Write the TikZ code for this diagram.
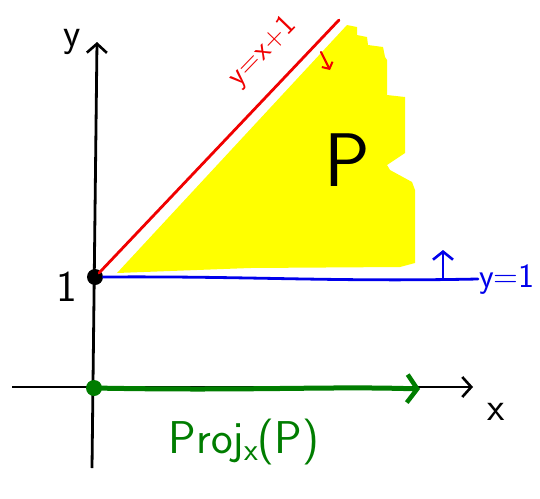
\documentclass[tikz,border=0pt]{standalone}
\usepackage{fontspec}
\usetikzlibrary{arrows.meta}
\definecolor{pyellow}{RGB}{255,255,0}
\definecolor{pred}{RGB}{240,0,0}
\definecolor{pblue}{RGB}{0,0,235}
\definecolor{pgreen}{RGB}{0,125,0}
\tikzset{
  axis/.style={line width=2.8pt, black, -{Straight Barb[length=9pt,width=20pt,line width=2.6pt]}},
  pen/.style={line width=2.8pt, line cap=round},
  lbl/.style={font=\sffamily, inner sep=0pt},
  dotnode/.style={circle, fill, inner sep=0pt, minimum size=16pt},
}
\begin{document}
\begin{tikzpicture}[x=1pt,y=-1pt]
\useasboundingbox (0,0) rectangle (540,498);
% region P
\fill[pyellow] (117,273) -- (347,25) -- (357,27) -- (357,35) -- (367,37) -- (368,45) -- (383,47) -- (385,57) -- (387,60) -- (387,95) -- (405,97) -- (405,153) -- (387,165) -- (390,170) -- (412,182) -- (415,190) -- (415,263) -- (400,267) -- (250,268) -- cycle;
\node[lbl, font=\sffamily\fontsize{76}{76}\selectfont] (P) at (347,160) {P};
% axes
\coordinate (ybot) at (92,468);
\coordinate (ytop) at (97,42);
\coordinate (xl) at (12,387);
\coordinate (xr) at (473,387);
\draw[axis] (ybot) -- (ytop);
\draw[axis] (xl) -- (xr);
\node[lbl, font=\sffamily\fontsize{40}{40}\selectfont] (xlab) at (496,412) {x};
\node[lbl, font=\sffamily\fontsize{40}{40}\selectfont] (ylab) at (72,42) {y};
% blue line y=1
\node[dotnode, black] (one) at (95,277) {};
\coordinate (bend) at (478,279);
\draw[pen, pblue] (one.east) .. controls (250,276) and (330,282) .. (bend);
\node[lbl, pblue, font=\sffamily\fontsize{34}{34}\selectfont] (y1) at (507,280) {y=1};
\coordinate (bu1) at (443,279);
\coordinate (bu2) at (443,250);
\draw[pen, pblue, -{Straight Barb[length=8pt,width=20pt,line width=2.6pt]}] (bu1) -- (bu2);
\node[lbl, font=\sffamily\fontsize{44}{44}\selectfont] (onelab) at (67,287) {1};
% red line y=x+1
\coordinate (rtop) at (339,20);
\draw[pen, pred] (one.center) ++(4,-4) -- (rtop);
\node[lbl, pred, rotate=46, font=\sffamily\fontsize{30}{30}\selectfont] (rl) at (263,52) {y=x+1};
\coordinate (ra1) at (321,52);
\coordinate (ra2) at (330,70);
\draw[line width=2.2pt, pred, line cap=round, -{Straight Barb[length=5pt,width=12pt,line width=2pt]}] (ra1) -- (ra2);
% projection
\node[dotnode, pgreen] (o) at (94,388) {};
\coordinate (gend) at (420,389);
\draw[line width=5pt, pgreen, line cap=round, -{Straight Barb[length=10pt,width=28pt,line width=4.5pt]}] (o.center) .. controls (250,391) and (330,386) .. (gend);
\node[lbl, pgreen, font=\sffamily\fontsize{46}{46}\selectfont] (proj) at (244,442) {Proj\raisebox{-0.35ex}{\fontsize{32}{32}\selectfont x}(P)};
\end{tikzpicture}
\end{document}
